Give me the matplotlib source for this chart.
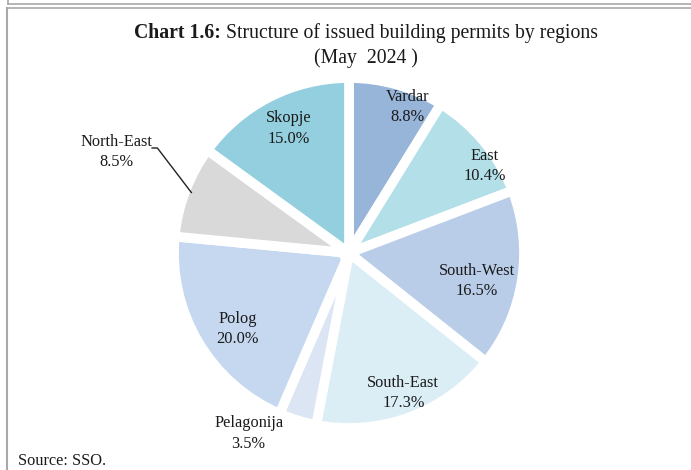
import matplotlib
matplotlib.use("Agg")
import matplotlib.pyplot as plt
import numpy as np
from matplotlib.lines import Line2D
from matplotlib.patches import Circle

regions = ["Vardar", "East", "South-West", "South-East", "Pelagonija", "Polog", "North-East", "Skopje"]
shares = [8.8, 10.4, 16.5, 17.3, 3.5, 20.0, 8.5, 15.0]
colors = ["#97b4d9", "#b3dfe8", "#b9cde8", "#dbeef5", "#dbe5f3", "#c6d8f0", "#d9d9d9", "#93cfde"]

# label placement: (radius fraction, angle offset deg from wedge mid)
label_r = [0.90, 0.92, 0.75, 0.86, 1.18, 0.77, 1.45, 0.79]
label_da = [-6, -7, -3.6, 0.8, -12, 3.6, -2.8, -1.2]

title_bold = "Chart 1.6:"
title_rest = " Structure of issued building permits by regions"
subtitle = "(May  2024 )"
source = "Source: SSO."

FONT = "Liberation Serif"
TXT = "#1a1a1a"

W, H = 691, 470
fig = plt.figure(figsize=(W / 100, H / 100), dpi=100)
ax = fig.add_axes([0, 0, 1, 1])

cx, cy, rpx = 349, 253, 175
wedges, _ = ax.pie(shares, colors=colors, startangle=90, counterclock=False,
                   radius=1.0, wedgeprops=dict(edgecolor="white", linewidth=7,
                                               joinstyle="round"))
ax.add_patch(Circle((0, 0), 0.06, facecolor="white", edgecolor="none", zorder=5))
ax.set_xlim(-cx / rpx, (W - cx) / rpx)
ax.set_ylim(-(H - cy) / rpx, cy / rpx)
ax.set_aspect("auto")
ax.axis("off")

for w, name, val, lr, da in zip(wedges, regions, shares, label_r, label_da):
    mid = np.deg2rad((w.theta1 + w.theta2) / 2 + da)
    x, y = lr * np.cos(mid), lr * np.sin(mid)
    ax.text(x, y, f"{name}\n{val:.1f}%", ha="center", va="center", fontsize=11.8,
            family=FONT, color=TXT, linespacing=1.35)

# leader line for North-East
a_end = np.deg2rad(159)
pts_x = [-1.125, -1.095, 0.965 * np.cos(a_end)]
pts_y = [0.60, 0.60, 0.965 * np.sin(a_end)]
ax.add_line(Line2D(pts_x, pts_y, color="#222222", lw=1.0))

# title
t1 = fig.text(0, 1 - 33 / H, title_bold, fontsize=14.2, fontweight="bold", family=FONT,
              color=TXT, va="center", ha="left")
t2 = fig.text(0, 1 - 33 / H, title_rest, fontsize=14.2, family=FONT, color=TXT,
              va="center", ha="left")
fig.canvas.draw()
r = fig.canvas.get_renderer()
w1 = t1.get_window_extent(r).width
w2 = t2.get_window_extent(r).width
x0 = 366 - (w1 + w2) / 2
t1.set_x(x0 / W)
t2.set_x((x0 + w1) / W)
fig.text(366 / W, 1 - 58 / H, subtitle, fontsize=14.2, family=FONT, color=TXT,
         ha="center", va="center")

fig.text(18 / W, 1 - 461 / H, source, fontsize=11.8, family=FONT, color=TXT,
         ha="left", va="center")

# frame lines
gray = "#a8a8a8"
fig.add_artist(Line2D([8 / W, 1], [1 - 4 / H, 1 - 4 / H], color=gray, lw=1.2))
fig.add_artist(Line2D([8 / W, 8 / W], [1, 1 - 4 / H], color=gray, lw=1.2))
fig.add_artist(Line2D([7 / W, 1], [1 - 7.5 / H, 1 - 7.5 / H], color=gray, lw=1.2))
fig.add_artist(Line2D([7 / W, 7 / W], [1 - 7.5 / H, 0], color=gray, lw=1.5))

fig.savefig("out.png", dpi=100)
